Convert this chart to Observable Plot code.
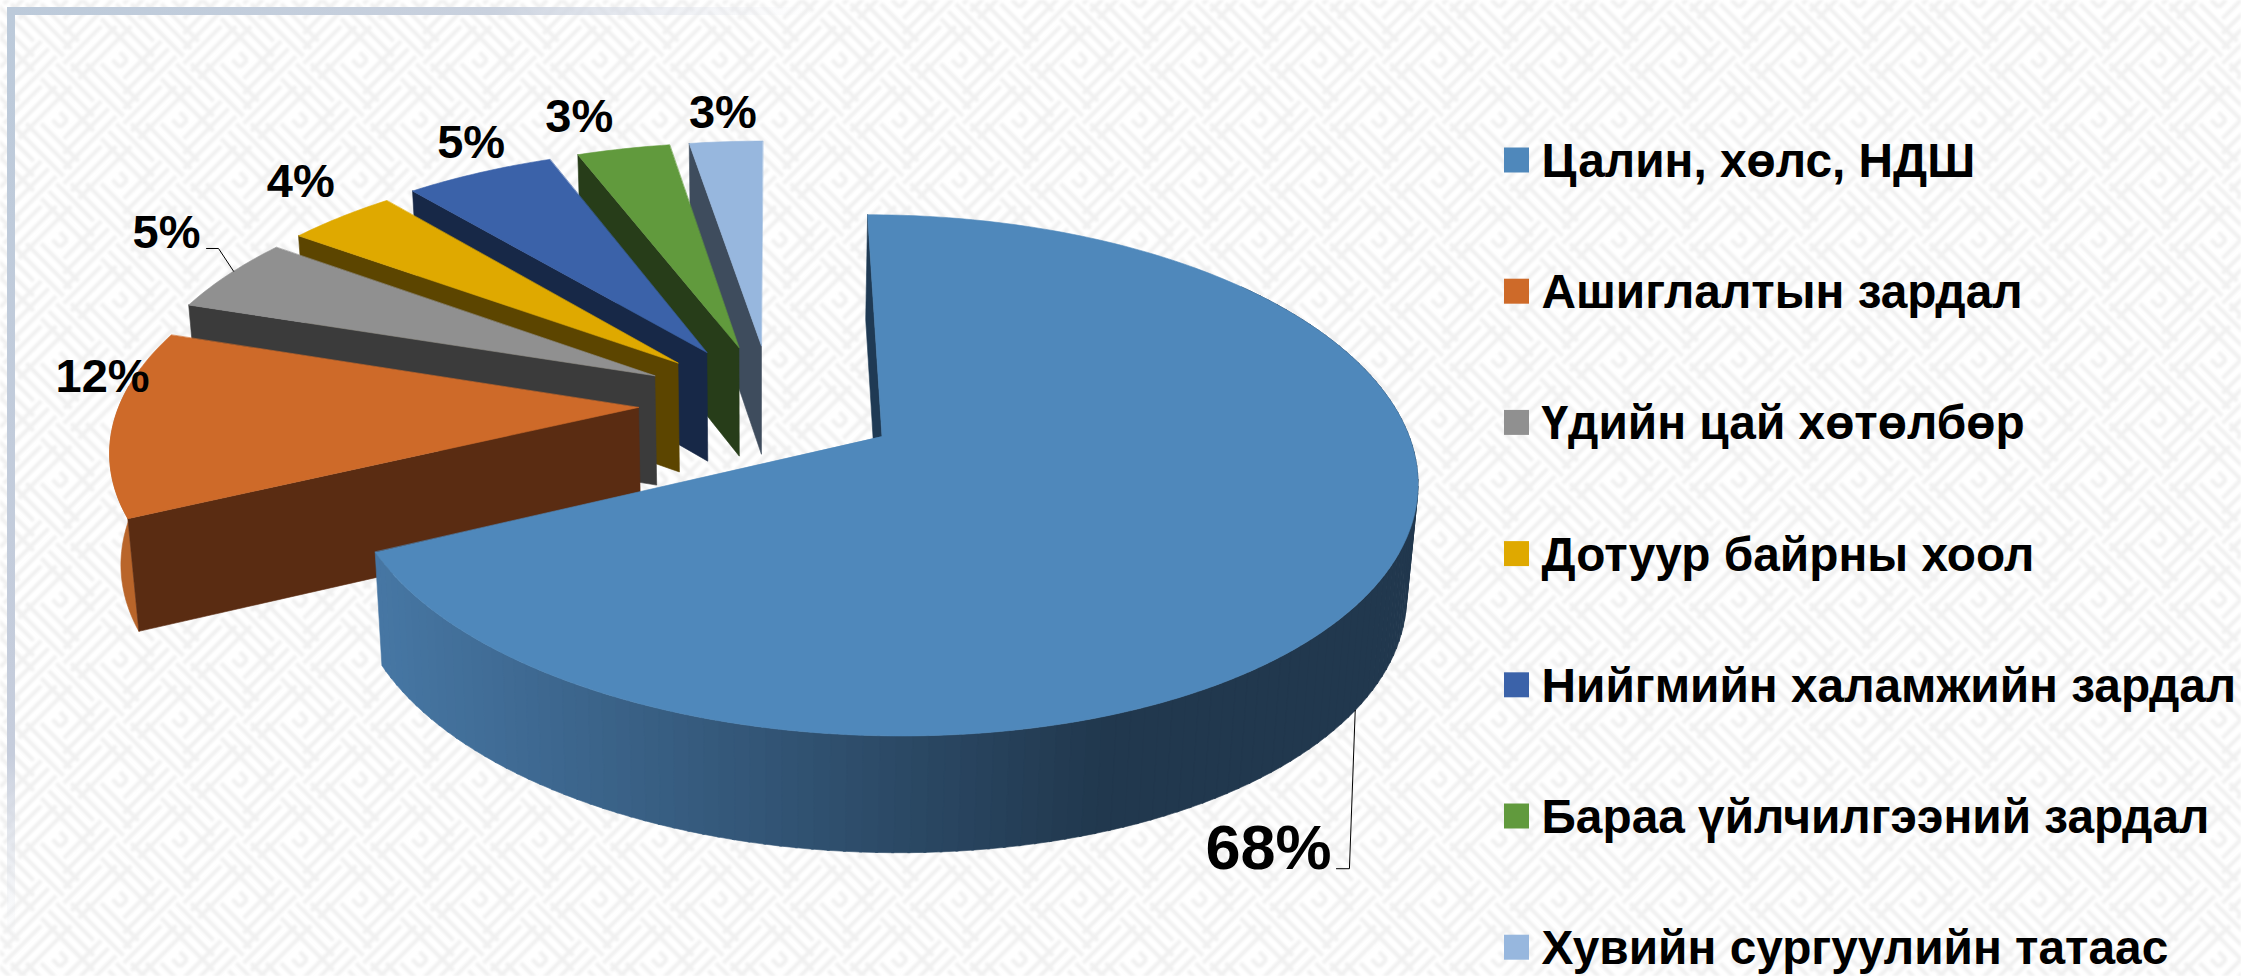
<!DOCTYPE html>
<html>
<head>
<meta charset="utf-8">
<script src="https://cdn.jsdelivr.net/npm/d3@7"></script>
<script src="https://cdn.jsdelivr.net/npm/@observablehq/plot@0.6"></script>
<style>
html,body{margin:0;padding:0;overflow:hidden;width:2241px;height:976px}
#chart{position:absolute;left:0;top:0;width:2241px;height:976px}
#chart svg{display:block;background:transparent}
</style>
</head>
<body>
<div id="chart"></div>
<script>
// ---- data ----
const categories = ["Цалин, хөлс, НДШ","Ашиглалтын зардал","Үдийн цай хөтөлбөр","Дотуур байрны хоол","Нийгмийн халамжийн зардал","Бараа үйлчилгээний зардал","Хувийн сургуулийн татаас"];
const shares = [68,12,4.9,3.9,5.3,3.3,2.6];
const topColors = ["#4F88BB","#CE6A29","#909090","#DFA900","#3B62A9","#619A3D","#97B7DE"];
const wallColors = ["#1F3A54","#5A2C12","#3B3B3B","#5C4500","#172847","#273D19","#3E4C5D"];

// ---- layout of the exploded 3-D pie (plane -> screen) ----
const G = {ox:771, oy:403, rx:525, ry:245, persp:0.147, vx:760, tilt:0.0174, d0:110, d1:6, rightK:0.0108, left:0.993};
const sliceExplode = [0.245,0.255,0.255,0.25,0.25,0.245,0.245];
const sliceRadius = [1,0.995,1.01,1.015,1.022,1.027,1.027];
const labelNudge = [[-108,284],[-11,-31],[-62,-26],[-40,-19.5],[-8,-15],[-44,-17],[-3,-14]];
const labelSize  = [63,47,47,47,47,47,47];
const rimRange = {0:[50,null],1:[null,275]};
const legend = {swatchX:1516, textX:1541, y0:159.5, step:131.2, base:17, font:47.8};

const rad = d => d*Math.PI/180;
let acc = 0;
const slices = shares.map((v,i)=>{const t0=acc*3.6; acc+=v; const t1=acc*3.6; return {i,t0,t1,m:(t0+t1)/2};});
function P(s,t,r,h){
  const R = r*sliceRadius[s.i], e = sliceExplode[s.i];
  const u = R*Math.sin(rad(t)) + e*Math.sin(rad(s.m));
  const v = -R*Math.cos(rad(t)) - e*Math.cos(rad(s.m));
  const D = 1 - G.persp*v;
  let x = G.ox + G.rx*u/D*(u>0?1-G.rightK*u:G.left), y = G.oy + G.ry*v/D;
  if(h){ y += G.d0 + G.d1*v; x += (G.vx-x)*G.tilt; }
  return [x,y];
}
const arc = (s,a,b,r,h,step=1)=>{const n=Math.max(1,Math.ceil(Math.abs(b-a)/step));return d3.range(n+1).map(k=>P(s,a+(b-a)*k/n,r,h));};
const poly = (pts,fill)=>Plot.line(pts,{x:d=>d[0],y:d=>d[1],fill,stroke:fill,strokeWidth:0.6,curve:"linear-closed"});

const marks = [];
const blueRamp = d3.scaleLinear().domain([382,1100]).range(["#4676A3","#21384E"]).clamp(true);
for(const s of slices.slice().reverse()){
  const rr = rimRange[s.i];
  if(rr){
    const a = rr[0]==null? s.t0 : rr[0], b = rr[1]==null? s.t1 : rr[1];
    if(s.i===0){
      for(let t=a;t<b;t+=1.5){
        const e=Math.min(t+1.7,b);
        const q=[P(s,t,1,0),P(s,e,1,0),P(s,e,1,1),P(s,t,1,1)];
        marks.push(poly(q,blueRamp((q[0][0]+q[1][0])/2)));
      }
    } else {
      marks.push(poly([...arc(s,a,b,1,0),...arc(s,b,a,1,1)],"#B9652A"));
    }
  }
  marks.push(poly([P(s,s.t0,1,0),P(s,s.t0,1,1),P(s,s.t0,0,1),P(s,s.t0,0,0)],wallColors[s.i]));
  marks.push(poly([P(s,s.t0,0,0),...arc(s,s.t0,s.t1,1,0)],topColors[s.i]));
}

// percent labels, anchored on each slice's rim
const labelRows = slices.map(s=>{const p=P(s,s.m,1,0);return {x:p[0]+labelNudge[s.i][0],y:p[1]+labelNudge[s.i][1],text:Math.round(shares[s.i])+"%",size:labelSize[s.i]};});
for(const r of labelRows){
  marks.push(Plot.text([r],{x:"x",y:"y",text:"text",fontSize:r.size,fontWeight:700,fontFamily:"Liberation Sans",fill:"#000",lineAnchor:"bottom",textAnchor:"middle"}));
}
// leader lines
const L0=labelRows[0], L2=labelRows[2];
marks.push(Plot.line([[L0.x+68,L0.y],[L0.x+81,L0.y],P(slices[0],125,1,1)],{x:d=>d[0],y:d=>d[1],stroke:"#000",strokeWidth:1}));
marks.push(Plot.line([[L2.x+40,L2.y],[L2.x+52,L2.y],P(slices[2],slices[2].m+1,1,0)],{x:d=>d[0],y:d=>d[1],stroke:"#000",strokeWidth:1}));

// legend
marks.push(Plot.dot(categories,{x:()=>legend.swatchX,y:(d,i)=>legend.y0+i*legend.step,fill:d=>d,symbol:"square",r:14.1}));
marks.push(Plot.text(categories,{x:()=>legend.textX,y:(d,i)=>legend.y0+legend.base+i*legend.step,text:d=>d,textAnchor:"start",lineAnchor:"bottom",fontSize:legend.font,fontWeight:700,fontFamily:"Liberation Sans",fill:"#000"}));

const chart = Plot.plot({
  width:2241,height:976,margin:0,
  x:{domain:[0,2241],range:[0,2241],axis:null},
  y:{domain:[0,976],range:[0,976],axis:null},
  color:{domain:categories,range:topColors},
  style:{background:"transparent",overflow:"visible"},
  marks
});
document.getElementById("chart").appendChild(chart);

// ---- paper background: faint key-fret maze with fading frame ----
(function(){
  const g=10.6,N=8,T=N*g; let d="";
  const h=(x1,x2,y)=>{d+=`M${x1*g} ${y*g}H${x2*g}`;}, v=(x,y1,y2)=>{d+=`M${x*g} ${y1*g}V${y2*g}`;};
  [.5,1.5,2.5].forEach(y=>{h(0,5+(y-.5),y);h(3-(y-.5),8,y+5);});
  [.5,1.5,2.5].forEach(k=>{v(5+k,0,5+(k-.5));v(k,3-(k-.5),8);});
  h(3.5,4.5,3.5);v(4.5,3.5,4.5);h(3.5,4.5,4.5);
  const svg=`<svg xmlns="http://www.w3.org/2000/svg" width="2241" height="976"><defs>
<filter id="f" x="0" y="0" width="1" height="1"><feGaussianBlur stdDeviation="0.9"/></filter>
<pattern id="p" width="${T}" height="${T}" patternUnits="userSpaceOnUse" patternTransform="rotate(45)"><path d="${d}" fill="none" stroke="#f0f0f0" stroke-width="4"/></pattern>
<linearGradient id="a"><stop offset="0" stop-color="#bccada"/><stop offset=".6" stop-color="#c9d1de"/><stop offset="1" stop-color="#e6e8f0" stop-opacity="0"/></linearGradient>
<linearGradient id="b" x2="0" y2="1"><stop offset="0" stop-color="#bccada"/><stop offset=".8" stop-color="#c6cddc"/><stop offset="1" stop-color="#dfe3ea" stop-opacity="0"/></linearGradient>
</defs><rect width="2241" height="976" fill="#fff"/><rect width="2241" height="976" fill="url(#p)" filter="url(#f)"/>
<rect x="7" y="7" width="810" height="8" fill="url(#a)"/><rect x="7" y="7" width="8" height="935" fill="url(#b)"/></svg>`;
  const root=document.documentElement;
  root.style.backgroundColor="#fff";
  root.style.backgroundImage=`url("data:image/svg+xml,${encodeURIComponent(svg)}")`;
  root.style.backgroundRepeat="no-repeat";
})();
</script>
</body>
</html>
